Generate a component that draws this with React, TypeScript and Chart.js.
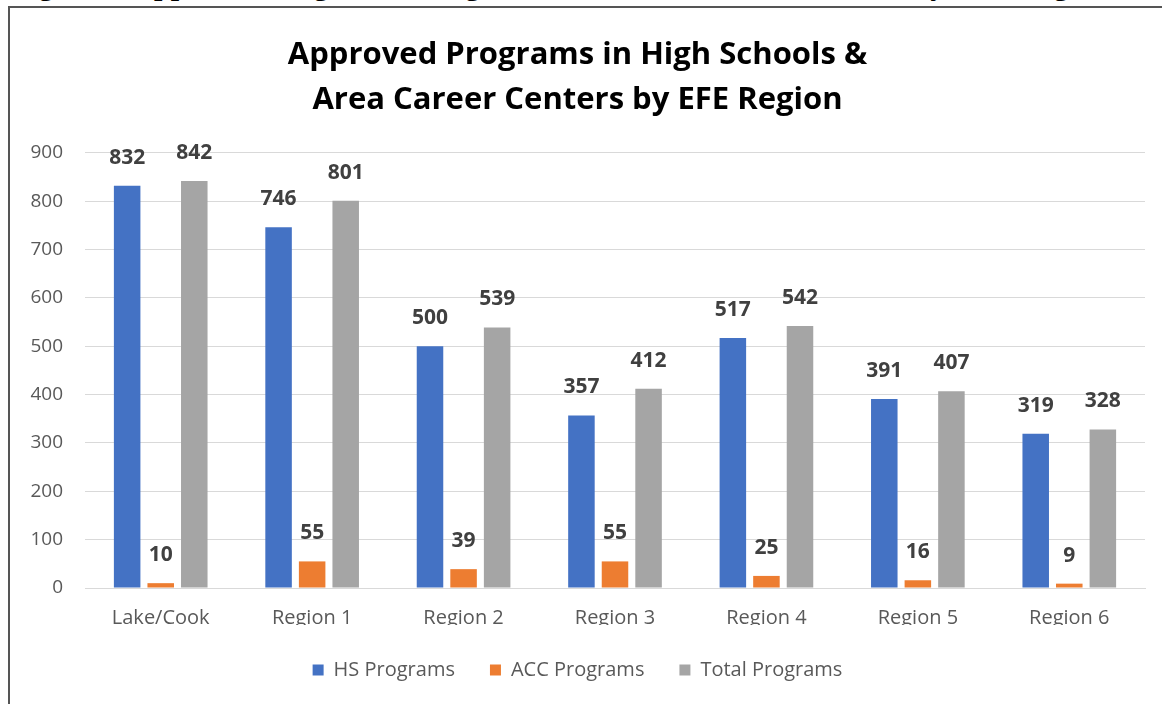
import React, { useEffect, useRef } from "react";
import { Chart, registerables } from "chart.js";

Chart.register(...registerables);

const categories = ["Lake/Cook", "Region 1", "Region 2", "Region 3", "Region 4", "Region 5", "Region 6"];
const hsPrograms = [832, 746, 500, 357, 517, 391, 319];
const accPrograms = [10, 55, 39, 55, 25, 16, 9];
const totalPrograms = [842, 801, 539, 412, 542, 407, 328];
const seriesNames = ["HS Programs", "ACC Programs", "Total Programs"];
const titleLines = ["Approved Programs in High Schools &", "Area Career Centers by EFE Region"];
const captionText = "Figure 5. Approved Programs in High Schools & Area Career Centers by EFE Region";

const FONT = "'Open Sans', 'Noto Sans', sans-serif";

const valueLabels = {
  id: "valueLabels",
  afterDatasetsDraw(chart: any) {
    const ctx = chart.ctx;
    ctx.save();
    ctx.font = `bold 21px ${FONT}`;
    ctx.fillStyle = "#404040";
    ctx.textAlign = "center";
    ctx.textBaseline = "middle";
    chart.data.datasets.forEach((ds: any, i: number) => {
      const meta = chart.getDatasetMeta(i);
      meta.data.forEach((bar: any, j: number) => {
        ctx.fillText(String(ds.data[j]), bar.x, bar.y - 28);
      });
    });
    ctx.restore();
  },
};

export default function App() {
  const ref = useRef<HTMLCanvasElement | null>(null);
  useEffect(() => {
    if (!ref.current) return;
    const chart = new Chart(ref.current, {
      type: "bar",
      data: {
        labels: categories,
        datasets: [
          { label: seriesNames[0], data: hsPrograms, backgroundColor: "#4472C4" },
          { label: seriesNames[1], data: accPrograms, backgroundColor: "#ED7D31" },
          { label: seriesNames[2], data: totalPrograms, backgroundColor: "#A5A5A5" },
        ],
      },
      options: {
        animation: false,
        responsive: false,
        layout: { padding: { left: 0, right: 17, top: 25, bottom: 14 } },
        datasets: { bar: { categoryPercentage: 0.665, barPercentage: 0.79 } } as any,
        plugins: {
          title: {
            display: true,
            text: titleLines,
            color: "#000000",
            font: { family: FONT, size: 31, weight: "bold", lineHeight: 1.45 },
            padding: { top: 0, bottom: 30 },
          },
          legend: {
            position: "bottom",
            labels: {
              boxWidth: 11,
              boxHeight: 11,
              color: "#595959",
              font: { family: FONT, size: 20 },
              padding: 35,
            },
          },
          tooltip: { enabled: false },
        },
        scales: {
          x: {
            grid: { display: false },
            border: { color: "#d9d9d9" },
            afterFit: (axis: any) => {
              axis.height = axis.height - 15;
            },
            ticks: { color: "#595959", font: { family: FONT, size: 20 }, padding: 10 },
          },
          y: {
            min: 0,
            max: 900,
            afterFit: (axis: any) => {
              axis.width = 75;
            },
            ticks: { stepSize: 100, color: "#595959", font: { family: FONT, size: 19 }, padding: 22 },
            grid: { color: "#d9d9d9", drawTicks: false },
            border: { display: false },
          },
        },
      },
      plugins: [valueLabels],
    });
    return () => chart.destroy();
  }, []);
  return (
    <div style={{ position: "absolute", left: 0, top: 0, width: 1162, height: 704, overflow: "hidden", background: "#fff" }}>
      <div style={{ position: "absolute", left: 0, top: 0, width: 1162, height: 7, overflow: "hidden" }}>
        <div
          style={{
            position: "absolute",
            left: 12,
            bottom: 5,
            whiteSpace: "nowrap",
            fontFamily: "'Liberation Serif', serif",
            fontWeight: "bold",
            fontSize: 30,
            lineHeight: "normal",
            color: "#000",
          }}
        >
          {captionText}
        </div>
      </div>
      <div
        style={{
          position: "absolute",
          left: 8,
          top: 6,
          width: 1154,
          height: 698,
          borderLeft: "2px solid #555",
          borderTop: "2px solid #555",
          background: "#fff",
        }}
      >
        <canvas ref={ref} width={1152} height={696} style={{ display: "block" }} />
      </div>
    </div>
  );
}
